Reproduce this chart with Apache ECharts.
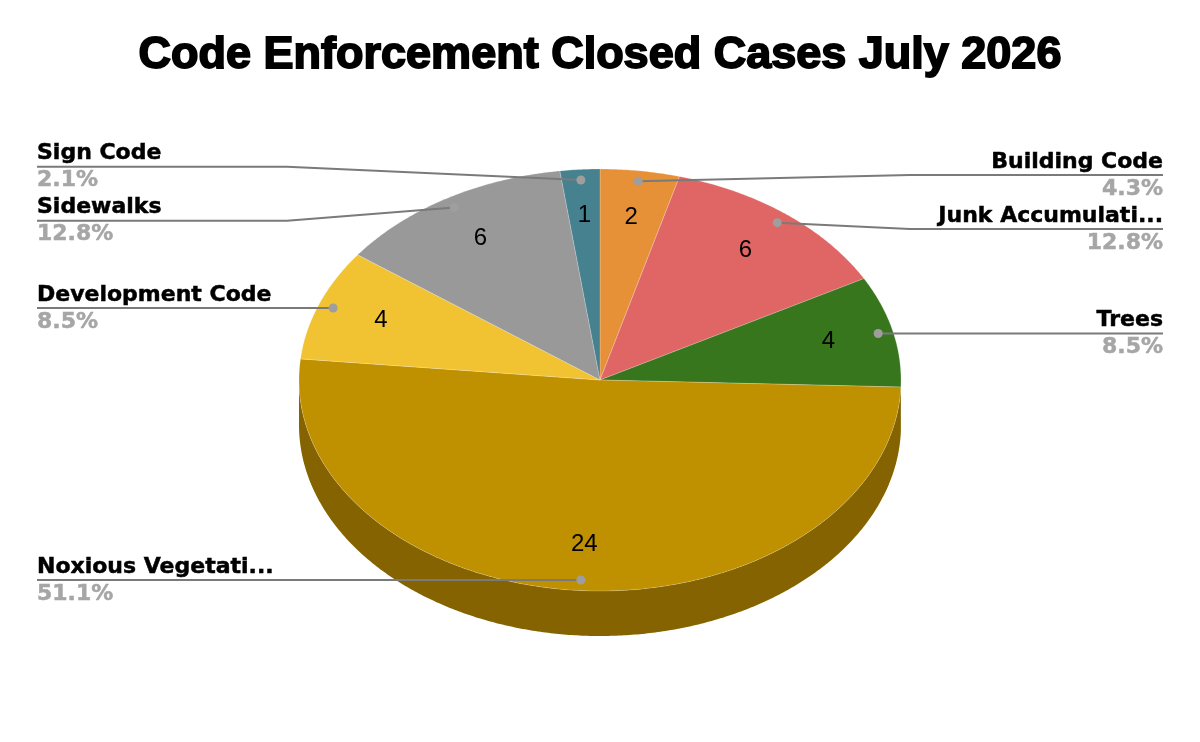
<!DOCTYPE html>
<html lang="en">
<head>
<meta charset="UTF-8">
<title>Code Enforcement Closed Cases July 2026</title>
<script src="https://cdn.jsdelivr.net/npm/echarts@6/dist/echarts.min.js"></script>
<style>html,body{margin:0;padding:0;background:#fff;}</style>
</head>
<body>
<div id="main" style="width:1200px;height:742px;"></div>
<script>
// data, clockwise from 12 o'clock
const categories = ['Building Code', 'Junk Accumulati...', 'Trees', 'Noxious Vegetati...', 'Development Code', 'Sidewalks', 'Sign Code'];
const caseCounts = [2, 6, 4, 24, 4, 6, 1];
const sliceColors = ['#e69138', '#e06666', '#38761d', '#bf9000', '#f1c232', '#999999', '#45818e'];

// pie geometry (tilted ellipse)
const cx = 600, cy = 380, rx = 301, ry = 211, depth = 45;
const total = caseCounts.reduce((a, b) => a + b, 0);

function darker(hex, f) {
    const n = parseInt(hex.slice(1), 16);
    const r = Math.round(((n >> 16) & 255) * f), g = Math.round(((n >> 8) & 255) * f), b = Math.round((n & 255) * f);
    return 'rgb(' + r + ',' + g + ',' + b + ')';
}
function pt(deg, k) {
    const a = deg * Math.PI / 180;
    return [cx + rx * k * Math.sin(a), cy - ry * k * Math.cos(a)];
}

// start / end angles
const starts = [], ends = [];
let acc = 0;
caseCounts.forEach(v => { starts.push(acc / total * 360); acc += v; ends.push(acc / total * 360); });

// leader dots and label rows
const dots = caseCounts.map((v, i) => pt((starts[i] + ends[i]) / 2, 0.95));
const rowY = dots.map(d => d[1]);
const gap = 54;
['L', 'R'].forEach(side => {
    const ids = dots.map((d, i) => i).filter(i => (dots[i][0] >= cx) === (side === 'R'));
    ids.sort((a, b) => rowY[a] - rowY[b]);
    for (let it = 0; it < 20; it++) {
        for (let k = 1; k < ids.length; k++) {
            const a = ids[k - 1], b = ids[k];
            const d = rowY[b] - rowY[a];
            if (d < gap) { const s = (gap - d) / 2; rowY[a] -= s; rowY[b] += s; }
        }
    }
});

var myChart = echarts.init(document.getElementById('main'));

const labelFont = { fontSize: 22, fontWeight: 'bold', fontFamily: 'DejaVu Sans', lineWidth: 0.5 };

function renderItem(params, api) {
    const i = params.dataIndex;
    const a0 = starts[i], a1 = ends[i];
    const children = [];
    const color = sliceColors[i];

    // side wall (front half only)
    const s0 = Math.max(a0, 90), s1 = Math.min(a1, 270);
    if (s1 > s0) {
        const top = [], bot = [];
        for (let a = s0; a < s1; a += 0.5) top.push(pt(a, 1));
        top.push(pt(s1, 1));
        top.forEach(p => bot.push([p[0], p[1] + depth]));
        children.push({
            type: 'polygon',
            shape: { points: top.concat(bot.reverse()) },
            style: { fill: darker(color, 0.69) }
        });
    }

    // top face
    const pts = [[cx, cy]];
    for (let a = a0; a < a1; a += 0.5) pts.push(pt(a, 1));
    pts.push(pt(a1, 1));
    children.push({
        type: 'polygon',
        shape: { points: pts },
        style: { fill: color, stroke: 'rgba(255,255,255,0.35)', lineWidth: 0.6 }
    });

    // value label
    const vp = pt((a0 + a1) / 2, 0.78);
    children.push({
        type: 'text', z2: 20,
        style: {
            text: String(api.value(0)), x: vp[0], y: vp[1],
            align: 'center', verticalAlign: 'middle',
            fill: '#000', fontSize: 24, fontFamily: 'Liberation Sans'
        }
    });

    // leader line + texts
    const right = dots[i][0] >= cx;
    const ly = rowY[i];
    const xEnd = right ? 1163 : 37;
    const xKnee = right ? cx + 310 : cx - 313;
    children.push({
        type: 'polyline', z2: 30,
        shape: { points: [[xEnd, ly], [xKnee, ly], dots[i]] },
        style: { stroke: '#7a7a7a', lineWidth: 2, fill: null }
    });
    children.push({
        type: 'circle', z2: 31,
        shape: { cx: dots[i][0], cy: dots[i][1], r: 4.5 },
        style: { fill: '#9e9e9e' }
    });
    children.push({
        type: 'text', z2: 30,
        style: Object.assign({
            text: categories[i], x: xEnd, y: ly - 2,
            align: right ? 'right' : 'left', verticalAlign: 'bottom',
            fill: '#000', stroke: '#000'
        }, labelFont)
    });
    children.push({
        type: 'text', z2: 30,
        style: Object.assign({
            text: (api.value(0) / total * 100).toFixed(1) + '%', x: xEnd, y: ly + 3,
            align: right ? 'right' : 'left', verticalAlign: 'top',
            fill: '#a6a6a6', stroke: '#a6a6a6'
        }, labelFont)
    });

    return { type: 'group', children: children };
}

option = {
    title: {
        text: 'Code Enforcement Closed Cases July 2026',
        left: 'center',
        top: 28,
        textStyle: {
            fontSize: 45, fontWeight: 'bold', fontFamily: 'Liberation Sans',
            color: '#000', textBorderColor: '#000', textBorderWidth: 1.8
        }
    },
    series: [
        {
            type: 'custom',
            coordinateSystem: 'none',
            renderItem: renderItem,
            animation: false,
            data: caseCounts.map((v, i) => ({ name: categories[i], value: v }))
        }
    ]
};

myChart.setOption(option);
</script>
</body>
</html>
